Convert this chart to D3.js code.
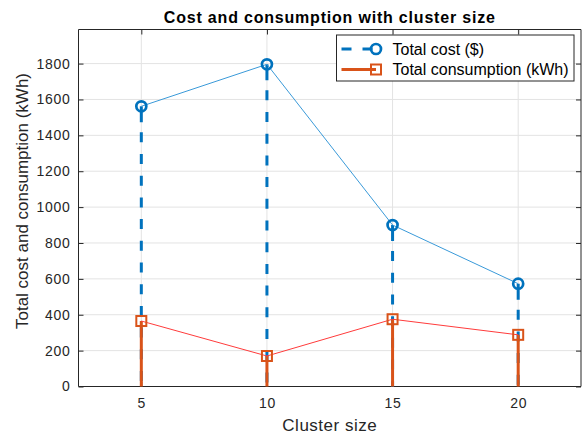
<!DOCTYPE html>
<html><head><meta charset="utf-8">
<script src="https://cdn.jsdelivr.net/npm/d3@7"></script>
<style>body{margin:0;background:#fff}svg{display:block}text{font-family:"Liberation Sans",Arial,sans-serif}</style>
</head><body><svg id="c" width="582" height="440"></svg>
<script>
const clusterSizes = [5, 10, 15, 20];
const totalCost = [1562, 1796, 900, 573];
const totalConsumption = [365, 170, 375, 288];
const xTicks = [5, 10, 15, 20];
const yTicks = [0, 200, 400, 600, 800, 1000, 1200, 1400, 1600, 1800];
const titleText = "Cost and consumption with cluster size";
const xLabel = "Cluster size";
const yLabel = "Total cost and consumption (kWh)";
const legendLabels = ["Total cost ($)", "Total consumption (kWh)"];

const W = 582, H = 440;
const L = 78.5, R = 581, T = 29.5, B = 386.5;
const svg = d3.select("#c");
const x = d3.scaleLinear().domain([2.5, 22.5]).range([L, R]);
const y = d3.scaleLinear().domain([0, 1990]).range([B, T]);
const axisCol = "#262626";
const blue = "#0072BD", red = "#D95319";

// grid
const g = svg.append("g");
g.selectAll(".gx").data(xTicks).join("line")
  .attr("x1", d => x(d)).attr("x2", d => x(d)).attr("y1", T).attr("y2", B)
  .attr("stroke", "#e3e3e3").attr("stroke-width", 1);
g.selectAll(".gy").data(yTicks).join("line")
  .attr("y1", d => y(d)).attr("y2", d => y(d)).attr("x1", L).attr("x2", R)
  .attr("stroke", "#e3e3e3").attr("stroke-width", 1);

// axes
const ax = svg.append("g").attr("transform", `translate(0,${B})`)
  .call(d3.axisBottom(x).tickValues(xTicks).tickSize(-5).tickPadding(11.5).tickFormat(d3.format("d")));
const axT = svg.append("g").attr("transform", `translate(0,${T})`)
  .call(d3.axisTop(x).tickValues(xTicks).tickSize(-5).tickFormat(""));
const ay = svg.append("g").attr("transform", `translate(${L},0)`)
  .call(d3.axisLeft(y).tickValues(yTicks).tickSize(-5).tickPadding(8).tickFormat(d3.format("d")));
const ayR = svg.append("g").attr("transform", `translate(${R},0)`)
  .call(d3.axisRight(y).tickValues(yTicks).tickSize(-5).tickFormat(""));
[ax, axT, ay, ayR].forEach(a => {
  a.selectAll("path").attr("stroke", axisCol).attr("stroke-width", 1);
  a.selectAll("line").attr("stroke", axisCol);
  a.selectAll("text").attr("fill", axisCol).attr("font-size", "14px")
    .style("letter-spacing", "0.7px")
    .style("font-family", '"Liberation Sans",Arial,sans-serif');
});
ax.select(".domain").attr("d", `M${L},0H${R}`);
axT.select(".domain").attr("d", `M${L},0H${R}`);
ay.select(".domain").attr("d", `M0,${T}V${B}`);
ayR.select(".domain").attr("d", `M0,${T}V${B}`);

const costData = clusterSizes.map((c, i) => ({c, v: totalCost[i]}));
const consData = clusterSizes.map((c, i) => ({c, v: totalConsumption[i]}));

// blue stems (dashed)
svg.selectAll(".bs").data(costData).join("line")
  .attr("x1", d => x(d.c)).attr("x2", d => x(d.c))
  .attr("y1", d => y(d.v)).attr("y2", y(0))
  .attr("stroke", blue).attr("stroke-width", 3).attr("stroke-dasharray", "16,10,10,11.7,10,11.7,10,11.7,10,11.7,10,11.7,10,11.7,10,11.7,10,11.7,10,11.7,10,11.7,10,11.7,10,11.7,10,11.7,10,11.7");

// red stems
svg.selectAll(".rs").data(consData).join("line")
  .attr("x1", d => x(d.c)).attr("x2", d => x(d.c))
  .attr("y1", d => y(d.v)).attr("y2", y(0))
  .attr("stroke", red).attr("stroke-width", 3);

// thin connecting lines
const line = d3.line().x(d => x(d.c)).y(d => y(d.v));
svg.append("path").datum(costData).attr("d", line).attr("fill", "none")
  .attr("stroke", "#3a9ad9").attr("stroke-width", 1);
svg.append("path").datum(consData).attr("d", line).attr("fill", "none")
  .attr("stroke", "#ff3b3b").attr("stroke-width", 1);

// markers
svg.selectAll(".bm").data(costData).join("circle")
  .attr("cx", d => x(d.c)).attr("cy", d => y(d.v)).attr("r", 5)
  .attr("fill", "none").attr("stroke", blue).attr("stroke-width", 2.7);
svg.selectAll(".rm").data(consData).join("rect")
  .attr("x", d => x(d.c) - 5).attr("y", d => y(d.v) - 5).attr("width", 10).attr("height", 10)
  .attr("fill", "none").attr("stroke", red).attr("stroke-width", 2);

// title & labels
svg.append("text").attr("x", (L + R) / 2).attr("y", 22.5).attr("text-anchor", "middle")
  .attr("font-size", "16px").attr("font-weight", "bold").attr("fill", "#000")
  .style("letter-spacing", "0.8px").text(titleText);
svg.append("text").attr("x", (L + R) / 2).attr("y", 431).attr("text-anchor", "middle")
  .attr("font-size", "17px").attr("fill", axisCol).style("letter-spacing", "0.5px").text(xLabel);
svg.append("text").attr("transform", `translate(28,201) rotate(-90)`).attr("text-anchor", "middle")
  .attr("font-size", "17px").attr("fill", axisCol).text(yLabel);

// legend
const lg = svg.append("g");
lg.append("rect").attr("x", 336.5).attr("y", 35).attr("width", 237.5).attr("height", 46)
  .attr("fill", "#fff").attr("stroke", "#262626").attr("stroke-width", 1);
const rows = [49, 69.5];
// cost entry
lg.append("line").attr("x1", 341.5).attr("x2", 376).attr("y1", rows[0]).attr("y2", rows[0])
  .attr("stroke", blue).attr("stroke-width", 3).attr("stroke-dasharray", "10,11,10");
lg.append("circle").attr("cx", 376).attr("cy", rows[0]).attr("r", 5)
  .attr("fill", "none").attr("stroke", blue).attr("stroke-width", 2.7);
// consumption entry
lg.append("line").attr("x1", 341.5).attr("x2", 376).attr("y1", rows[1]).attr("y2", rows[1])
  .attr("stroke", red).attr("stroke-width", 3);
lg.append("rect").attr("x", 371).attr("y", rows[1] - 5).attr("width", 10).attr("height", 10)
  .attr("fill", "none").attr("stroke", red).attr("stroke-width", 2);
lg.selectAll(".lt").data(legendLabels).join("text")
  .attr("x", 392.5).attr("y", (d, i) => rows[i] + 5.5)
  .attr("font-size", "16px").attr("fill", "#000").text(d => d);
</script></body></html>
